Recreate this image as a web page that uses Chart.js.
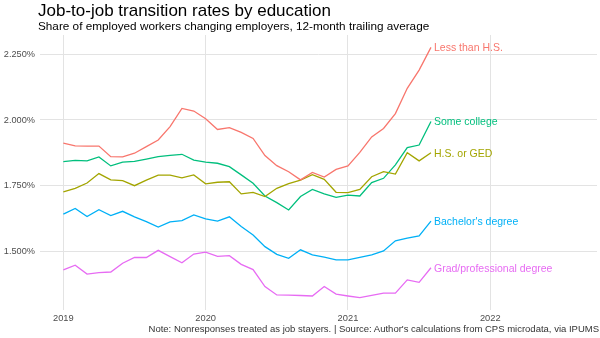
<!DOCTYPE html>
<html>
<head>
<meta charset="utf-8">
<script src="https://cdn.jsdelivr.net/npm/chart.js@4"></script>
<style>
  html, body { margin: 0; padding: 0; background: #fff; }
  #wrap { position: relative; width: 600px; height: 338px; overflow: hidden; font-family: "Liberation Sans", Arial, sans-serif; }
  #chart { position: absolute; left: 0; top: 0; }
  .title { position: absolute; left: 38px; top: 1px; font-size: 17px; color: #000; white-space: nowrap; }
  .subtitle { position: absolute; left: 38px; top: 19px; font-size: 11.75px; color: #000; white-space: nowrap; }
  .caption { position: absolute; right: 1px; top: 323px; font-size: 9.5px; color: #333; white-space: nowrap; }
</style>
</head>
<body>
<div id="wrap">
  <canvas id="chart" width="600" height="338"></canvas>
  <div class="title">Job-to-job transition rates by education</div>
  <div class="subtitle">Share of employed workers changing employers, 12-month trailing average</div>
  <div class="caption">Note: Nonresponses treated as job stayers. | Source: Author's calculations from CPS microdata, via IPUMS</div>
</div>
<script>
(function() {
  'use strict';

  var months = [
    '2019-01', '2019-02', '2019-03', '2019-04', '2019-05', '2019-06', '2019-07', '2019-08', '2019-09', '2019-10', '2019-11', '2019-12',
    '2020-01', '2020-02', '2020-03', '2020-04', '2020-05', '2020-06', '2020-07', '2020-08', '2020-09', '2020-10', '2020-11', '2020-12',
    '2021-01', '2021-02', '2021-03', '2021-04', '2021-05', '2021-06', '2021-07', '2021-08'
  ];

  var lessHS = [1.912, 1.902, 1.901, 1.901, 1.861, 1.860, 1.874, 1.899, 1.924, 1.975, 2.044, 2.034,
    2.005, 1.964, 1.971, 1.953, 1.930, 1.865, 1.827, 1.804, 1.773, 1.801, 1.784, 1.813,
    1.826, 1.877, 1.936, 1.968, 2.024, 2.120, 2.189, 2.275];
  var hsGed = [1.728, 1.741, 1.761, 1.797, 1.773, 1.770, 1.751, 1.772, 1.791, 1.791, 1.781, 1.792,
    1.758, 1.764, 1.766, 1.720, 1.726, 1.710, 1.741, 1.759, 1.772, 1.793, 1.775, 1.726,
    1.725, 1.737, 1.785, 1.804, 1.795, 1.876, 1.845, 1.876];
  var someCollege = [1.842, 1.847, 1.845, 1.860, 1.826, 1.840, 1.843, 1.852, 1.861, 1.866, 1.870, 1.848,
    1.840, 1.836, 1.823, 1.792, 1.760, 1.712, 1.687, 1.659, 1.710, 1.737, 1.720, 1.707,
    1.715, 1.712, 1.763, 1.779, 1.830, 1.895, 1.905, 1.994];
  var bachelors = [1.643, 1.665, 1.634, 1.660, 1.638, 1.654, 1.633, 1.615, 1.594, 1.614, 1.619, 1.640,
    1.625, 1.617, 1.633, 1.596, 1.564, 1.520, 1.491, 1.476, 1.508, 1.489, 1.480, 1.470,
    1.470, 1.479, 1.489, 1.504, 1.542, 1.552, 1.561, 1.617];
  var grad = [1.432, 1.450, 1.416, 1.422, 1.424, 1.457, 1.479, 1.479, 1.506, 1.482, 1.459, 1.492,
    1.499, 1.483, 1.486, 1.453, 1.433, 1.369, 1.337, 1.336, 1.335, 1.333, 1.369, 1.340,
    1.333, 1.327, 1.335, 1.344, 1.344, 1.394, 1.385, 1.440];

  var seriesNames = ['Less than H.S.', 'H.S. or GED', 'Some college', "Bachelor's degree", 'Grad/professional degree'];
  var seriesValues = [lessHS, hsGed, someCollege, bachelors, grad];
  var colors = ['#F8766D', '#A3A500', '#00BF7D', '#00B0F6', '#E76BF3'];
  var xTicks = [2019, 2020, 2021, 2022];
  var yTicks = [1.5, 1.75, 2.0, 2.25];

  function toYear(m) {
    var parts = m.split('-');
    return Number(parts[0]) + (Number(parts[1]) - 1) / 12;
  }

  var datasets = seriesValues.map(function(values, k) {
    return {
      label: seriesNames[k],
      data: values.map(function(v, i) { return { x: toYear(months[i]), y: v }; }),
      borderColor: colors[k],
      borderWidth: 1.3,
      pointRadius: 0,
      tension: 0,
      fill: false
    };
  });

  var endLabels = {
    id: 'endLabels',
    afterDatasetsDraw: function(chart) {
      var ctx = chart.ctx;
      var xs = chart.scales.x, ys = chart.scales.y;
      ctx.save();
      ctx.font = '10.5px "Liberation Sans", Arial, sans-serif';
      ctx.textAlign = 'left';
      ctx.textBaseline = 'middle';
      chart.data.datasets.forEach(function(ds) {
        var last = ds.data[ds.data.length - 1];
        ctx.fillStyle = ds.borderColor;
        ctx.fillText(ds.label, xs.getPixelForValue(last.x) + 3, ys.getPixelForValue(last.y) + 1);
      });
      ctx.restore();
    }
  };

  new Chart(document.getElementById('chart'), {
    type: 'line',
    data: { datasets: datasets },
    plugins: [endLabels],
    options: {
      responsive: false,
      animation: false,
      layout: { padding: { top: 35, right: 3, left: 0, bottom: 0 } },
      plugins: { legend: { display: false }, tooltip: { enabled: false } },
      scales: {
        x: {
          type: 'linear',
          min: 2018.836,
          max: 2022.75,
          afterBuildTicks: function(scale) {
            scale.ticks = xTicks.map(function(v) { return { value: v }; });
          },
          afterFit: function(scale) { scale.height = 28; },
          ticks: {
            color: '#4d4d4d',
            font: { family: '"Liberation Sans", Arial, sans-serif', size: 9.3 },
            padding: 3,
            maxRotation: 0,
            callback: function(v) { return String(v); }
          },
          grid: { color: '#e3e3e3', lineWidth: 1, drawTicks: false },
          border: { display: false }
        },
        y: {
          min: 1.28,
          max: 2.322,
          afterBuildTicks: function(scale) {
            scale.ticks = yTicks.map(function(v) { return { value: v }; });
          },
          afterFit: function(scale) { scale.width = 40; },
          ticks: {
            color: '#4d4d4d',
            font: { family: '"Liberation Sans", Arial, sans-serif', size: 9.2 },
            padding: 5,
            callback: function(v) { return v.toFixed(3) + '%'; }
          },
          grid: { color: '#e3e3e3', lineWidth: 1, drawTicks: false },
          border: { display: false }
        }
      }
    }
  });
})();
</script>
</body>
</html>
